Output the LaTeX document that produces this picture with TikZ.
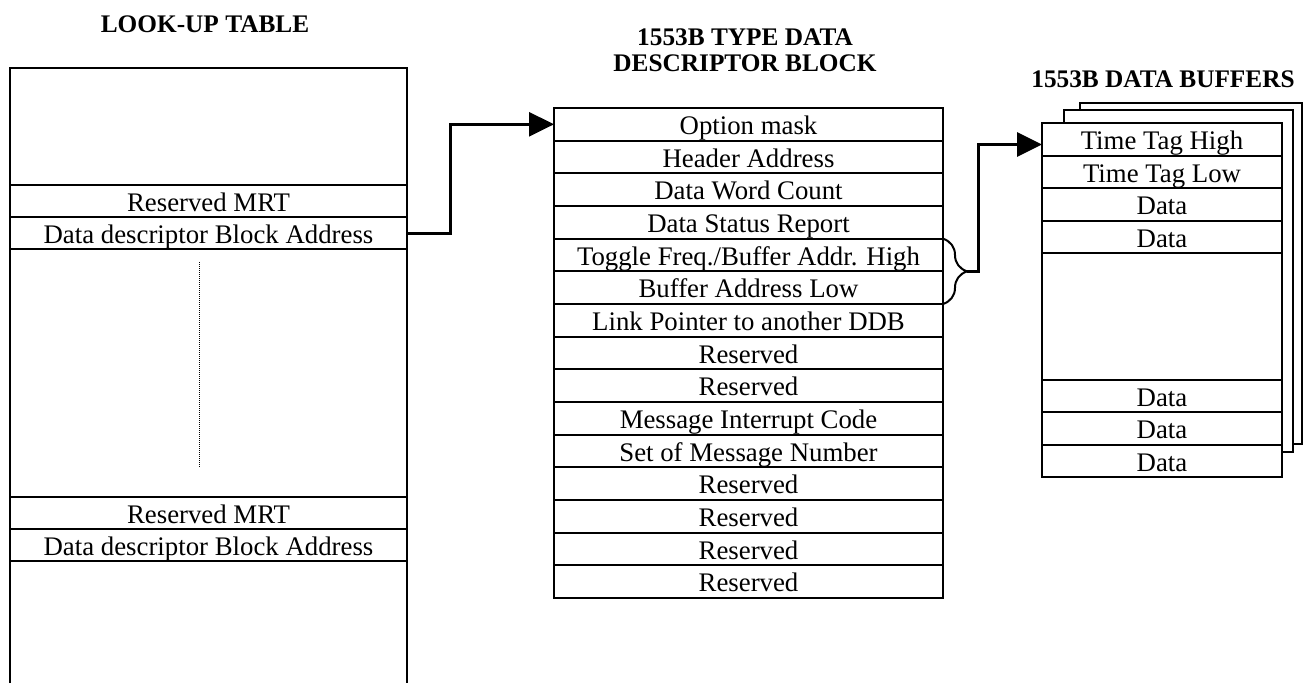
\documentclass[tikz,border=0pt]{standalone}
\usepackage{fontspec}
\setmainfont{Liberation Serif}
\usetikzlibrary{arrows.meta,decorations.pathreplacing}
\tikzset{
	box/.style={line width=2pt},
	row/.style={draw, line width=2pt, inner sep=0pt, outer sep=0pt, minimum height=32.67pt, text height=21pt, text depth=1pt, font=\fontsize{26.8}{30}\selectfont},
	lutrow/.style={row, minimum width=397pt},
	ddbrow/.style={row, minimum width=389pt},
	bufrow/.style={row, minimum width=240pt, minimum height=32.5pt},
	title/.style={font=\fontsize{25.3}{25.5}\selectfont\bfseries, align=center},
	link/.style={line width=3pt, -{Triangle[length=25pt,width=24pt]}},
}
\begin{document}
\begin{tikzpicture}[x=1pt,y=-1pt]
			\useasboundingbox (0,0) rectangle (1311,683);
			% look-up table
			\node[title] (lutT) at (205,24) {LOOK-UP TABLE};
			\draw[box] (10,683) |- (407,68) -- (407,683);
			\node[lutrow] (mrtA) at (208.5,201) {Reserved MRT};
			\node[lutrow] (dbaA) at (208.5,233) {Data descriptor Block Address};
			\draw[densely dotted, line width=1pt] (199,262) -- (199,467);
			\node[lutrow] (mrtB) at (208.5,513) {Reserved MRT};
			\node[lutrow] (dbaB) at (208.5,545) {Data descriptor Block Address};
			% data descriptor block
			\node[title] (ddbT) at (745,50) {1553B TYPE DATA\\DESCRIPTOR BLOCK};
			\node[ddbrow] (d1) at (748.5,124.3) {Option mask};
			\node[ddbrow] (d2) at (748.5,157.0) {Header Address};
			\node[ddbrow] (d3) at (748.5,189.7) {Data Word Count};
			\node[ddbrow] (d4) at (748.5,222.3) {Data Status Report};
			\node[ddbrow] (d5) at (748.5,255.0) {Toggle Freq./Buffer Addr. High};
			\node[ddbrow] (d6) at (748.5,287.7) {Buffer Address Low};
			\node[ddbrow] (d7) at (748.5,320.3) {Link Pointer to another DDB};
			\node[ddbrow] (d8) at (748.5,353.0) {Reserved};
			\node[ddbrow] (d9) at (748.5,385.7) {Reserved};
			\node[ddbrow] (d10) at (748.5,418.3) {Message Interrupt Code};
			\node[ddbrow] (d11) at (748.5,451.0) {Set of Message Number};
			\node[ddbrow] (d12) at (748.5,483.7) {Reserved};
			\node[ddbrow] (d13) at (748.5,516.3) {Reserved};
			\node[ddbrow] (d14) at (748.5,549.0) {Reserved};
			\node[ddbrow] (d15) at (748.5,581.7) {Reserved};
			% data buffers
			\node[title] (bufT) at (1163,79) {1553B DATA BUFFERS};
			\draw[line width=1.3pt, fill=white] (1080,103) rectangle (1302,444);
			\draw[box, fill=white] (1064,110) rectangle (1293,452);
			\draw[box, fill=white] (1042,123) rectangle (1282,477);
			\node[bufrow] (b1) at (1162,139.5) {Time Tag High};
			\node[bufrow] (b2) at (1162,172) {Time Tag Low};
			\node[bufrow] (b3) at (1162,204.5) {Data};
			\node[bufrow] (b4) at (1162,237) {Data};
			\node[bufrow] (b5) at (1162,396) {Data};
			\node[bufrow] (b6) at (1162,428.5) {Data};
			\node[bufrow] (b7) at (1162,461) {Data};
			% pointers
			\draw[link] (dbaA.east) -- ++(43,0) |- (d1.west);
			\draw[box, decorate, decoration={brace, amplitude=24pt}] (d5.north east) -- (d6.south east);
			\coordinate (bt) at (967,271.3);
			\draw[link] (bt) -- ++(11,0) |- ([yshift=-5pt]b1.west);
		\end{tikzpicture}
\end{document}
